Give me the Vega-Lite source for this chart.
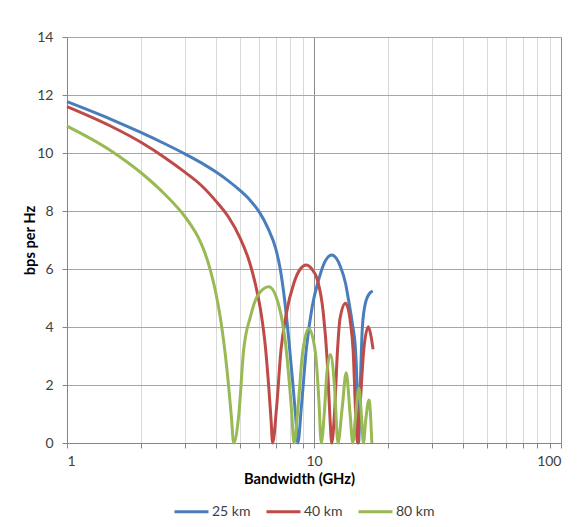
{
  "$schema": "https://vega.github.io/schema/vega-lite/v6.json",
  "width": 494,
  "height": 406,
  "autosize": {"type": "none"},
  "padding": {"left": 67, "top": 37, "right": 20, "bottom": 84},
  "background": "white",
  "config": {
    "view": {"stroke": null},
    "font": "Lato",
    "axis": {"labelFont": "Lato", "titleFont": "Lato", "labelColor": "#404040", "titleColor": "#000000", "labelFontSize": 14, "titleFontSize": 14.7, "titleFontWeight": "bold", "domainColor": "#868686", "tickColor": "#868686", "tickSize": 5}
  },
  "data": {
    "values": [
      {"x": 1, "y": 11.77, "s": "25 km"},
      {"x": 1.5, "y": 11.17, "s": "25 km"},
      {"x": 2, "y": 10.7, "s": "25 km"},
      {"x": 2.5, "y": 10.31, "s": "25 km"},
      {"x": 3, "y": 9.97, "s": "25 km"},
      {"x": 3.5, "y": 9.66, "s": "25 km"},
      {"x": 4, "y": 9.35, "s": "25 km"},
      {"x": 4.5, "y": 9.04, "s": "25 km"},
      {"x": 5, "y": 8.72, "s": "25 km"},
      {"x": 5.5, "y": 8.38, "s": "25 km"},
      {"x": 6, "y": 7.97, "s": "25 km"},
      {"x": 6.5, "y": 7.42, "s": "25 km"},
      {"x": 7, "y": 6.7, "s": "25 km"},
      {"x": 7.3, "y": 6.0, "s": "25 km"},
      {"x": 7.6, "y": 4.95, "s": "25 km"},
      {"x": 7.9, "y": 3.6, "s": "25 km"},
      {"x": 8.2, "y": 2.1, "s": "25 km"},
      {"x": 8.45, "y": 0.8, "s": "25 km"},
      {"x": 8.6, "y": 0, "s": "25 km"},
      {"x": 8.9, "y": 1.3, "s": "25 km"},
      {"x": 9.3, "y": 3.2, "s": "25 km"},
      {"x": 9.83, "y": 4.7, "s": "25 km"},
      {"x": 10.46, "y": 5.65, "s": "25 km"},
      {"x": 11.0, "y": 6.2, "s": "25 km"},
      {"x": 11.8, "y": 6.48, "s": "25 km"},
      {"x": 12.8, "y": 6.08, "s": "25 km"},
      {"x": 13.42, "y": 5.5, "s": "25 km"},
      {"x": 13.8, "y": 4.93, "s": "25 km"},
      {"x": 14.29, "y": 4.13, "s": "25 km"},
      {"x": 14.73, "y": 3.2, "s": "25 km"},
      {"x": 15.0, "y": 1.5, "s": "25 km"},
      {"x": 15.15, "y": 0, "s": "25 km"},
      {"x": 15.4, "y": 2.0, "s": "25 km"},
      {"x": 15.7, "y": 4.0, "s": "25 km"},
      {"x": 16.18, "y": 4.85, "s": "25 km"},
      {"x": 16.97, "y": 5.2, "s": "25 km"},
      {"x": 17.3, "y": 5.24, "s": "25 km"},

      {"x": 1, "y": 11.6, "s": "40 km"},
      {"x": 1.5, "y": 10.93, "s": "40 km"},
      {"x": 2, "y": 10.36, "s": "40 km"},
      {"x": 2.5, "y": 9.83, "s": "40 km"},
      {"x": 3, "y": 9.34, "s": "40 km"},
      {"x": 3.5, "y": 8.88, "s": "40 km"},
      {"x": 4, "y": 8.35, "s": "40 km"},
      {"x": 4.5, "y": 7.8, "s": "40 km"},
      {"x": 5, "y": 7.1, "s": "40 km"},
      {"x": 5.5, "y": 6.2, "s": "40 km"},
      {"x": 5.8, "y": 5.45, "s": "40 km"},
      {"x": 6.1, "y": 4.5, "s": "40 km"},
      {"x": 6.36, "y": 3.3, "s": "40 km"},
      {"x": 6.55, "y": 2.0, "s": "40 km"},
      {"x": 6.7, "y": 0.8, "s": "40 km"},
      {"x": 6.8, "y": 0, "s": "40 km"},
      {"x": 7.05, "y": 1.2, "s": "40 km"},
      {"x": 7.35, "y": 3.2, "s": "40 km"},
      {"x": 7.72, "y": 4.45, "s": "40 km"},
      {"x": 8.28, "y": 5.5, "s": "40 km"},
      {"x": 8.8, "y": 6.0, "s": "40 km"},
      {"x": 9.3, "y": 6.14, "s": "40 km"},
      {"x": 9.8, "y": 6.0, "s": "40 km"},
      {"x": 10.3, "y": 5.65, "s": "40 km"},
      {"x": 10.9, "y": 4.5, "s": "40 km"},
      {"x": 11.3, "y": 2.9, "s": "40 km"},
      {"x": 11.6, "y": 0.9, "s": "40 km"},
      {"x": 11.8, "y": 0, "s": "40 km"},
      {"x": 12.1, "y": 1.0, "s": "40 km"},
      {"x": 12.45, "y": 3.2, "s": "40 km"},
      {"x": 12.75, "y": 4.3, "s": "40 km"},
      {"x": 13.42, "y": 4.82, "s": "40 km"},
      {"x": 14.06, "y": 4.13, "s": "40 km"},
      {"x": 14.4, "y": 3.2, "s": "40 km"},
      {"x": 14.75, "y": 1.0, "s": "40 km"},
      {"x": 15.0, "y": 0, "s": "40 km"},
      {"x": 15.35, "y": 1.2, "s": "40 km"},
      {"x": 15.9, "y": 3.2, "s": "40 km"},
      {"x": 16.6, "y": 4.01, "s": "40 km"},
      {"x": 17.0, "y": 3.7, "s": "40 km"},
      {"x": 17.35, "y": 3.23, "s": "40 km"},

      {"x": 1, "y": 10.93, "s": "80 km"},
      {"x": 1.5, "y": 10.09, "s": "80 km"},
      {"x": 2, "y": 9.31, "s": "80 km"},
      {"x": 2.5, "y": 8.56, "s": "80 km"},
      {"x": 3, "y": 7.81, "s": "80 km"},
      {"x": 3.2, "y": 7.47, "s": "80 km"},
      {"x": 3.4, "y": 7.09, "s": "80 km"},
      {"x": 3.6, "y": 6.6, "s": "80 km"},
      {"x": 3.8, "y": 5.98, "s": "80 km"},
      {"x": 4.0, "y": 5.2, "s": "80 km"},
      {"x": 4.18, "y": 4.3, "s": "80 km"},
      {"x": 4.44, "y": 2.55, "s": "80 km"},
      {"x": 4.63, "y": 0.9, "s": "80 km"},
      {"x": 4.73, "y": 0, "s": "80 km"},
      {"x": 4.95, "y": 0.9, "s": "80 km"},
      {"x": 5.19, "y": 3.2, "s": "80 km"},
      {"x": 5.53, "y": 4.36, "s": "80 km"},
      {"x": 5.88, "y": 5.04, "s": "80 km"},
      {"x": 6.56, "y": 5.39, "s": "80 km"},
      {"x": 7.2, "y": 4.75, "s": "80 km"},
      {"x": 7.7, "y": 3.3, "s": "80 km"},
      {"x": 8.1, "y": 1.2, "s": "80 km"},
      {"x": 8.3, "y": 0, "s": "80 km"},
      {"x": 8.65, "y": 1.4, "s": "80 km"},
      {"x": 8.96, "y": 3.0, "s": "80 km"},
      {"x": 9.52, "y": 3.95, "s": "80 km"},
      {"x": 10.14, "y": 3.1, "s": "80 km"},
      {"x": 10.46, "y": 1.5, "s": "80 km"},
      {"x": 10.7, "y": 0, "s": "80 km"},
      {"x": 11.0, "y": 1.0, "s": "80 km"},
      {"x": 11.3, "y": 2.5, "s": "80 km"},
      {"x": 11.65, "y": 3.05, "s": "80 km"},
      {"x": 12.1, "y": 2.0, "s": "80 km"},
      {"x": 12.5, "y": 0, "s": "80 km"},
      {"x": 13.0, "y": 1.2, "s": "80 km"},
      {"x": 13.5, "y": 2.42, "s": "80 km"},
      {"x": 14.0, "y": 1.0, "s": "80 km"},
      {"x": 14.35, "y": 0, "s": "80 km"},
      {"x": 14.75, "y": 1.0, "s": "80 km"},
      {"x": 15.2, "y": 1.9, "s": "80 km"},
      {"x": 15.6, "y": 0.8, "s": "80 km"},
      {"x": 15.85, "y": 0, "s": "80 km"},
      {"x": 16.2, "y": 0.8, "s": "80 km"},
      {"x": 16.7, "y": 1.48, "s": "80 km"},
      {"x": 17.15, "y": 0, "s": "80 km"}
    ]
  },
  "mark": {"type": "line", "strokeWidth": 3, "interpolate": "monotone"},
  "encoding": {
    "x": {
      "field": "x", "type": "quantitative",
      "scale": {"type": "log", "domain": [1, 100], "nice": false},
      "axis": {
        "title": "Bandwidth (GHz)",
        "values": [1, 2, 3, 4, 5, 6, 7, 8, 9, 10, 20, 30, 40, 50, 60, 70, 80, 90, 100],
        "labelExpr": "datum.value == 1 || datum.value == 10 || datum.value == 100 ? toString(datum.value) : ''",
        "labelPadding": 6,
        "titlePadding": 3,
        "titleX": 232,
        "gridColor": {"condition": {"test": "datum.value == 10 || datum.value == 100", "value": "#8c8c8c"}, "value": "#d9d9d9"},
        "gridWidth": 1
      }
    },
    "y": {
      "field": "y", "type": "quantitative",
      "scale": {"domain": [0, 14], "nice": false},
      "axis": {
        "title": "bps per Hz",
        "values": [0, 2, 4, 6, 8, 10, 12, 14],
        "labelPadding": 9,
        "titlePadding": -1,
        "gridColor": "#a6a6a6"
      }
    },
    "color": {
      "field": "s", "type": "nominal",
      "scale": {"domain": ["25 km", "40 km", "80 km"], "range": ["#4A7EBB", "#BE4B48", "#98B954"]},
      "legend": {
        "title": null, "orient": "none", "direction": "horizontal",
        "legendX": 106, "legendY": 456,
        "symbolType": "stroke", "symbolSize": 1156, "symbolStrokeWidth": 3,
        "labelFont": "Lato", "labelFontSize": 14, "labelColor": "#404040",
        "columnPadding": 9, "labelOffset": 2
      }
    }
  }
}
